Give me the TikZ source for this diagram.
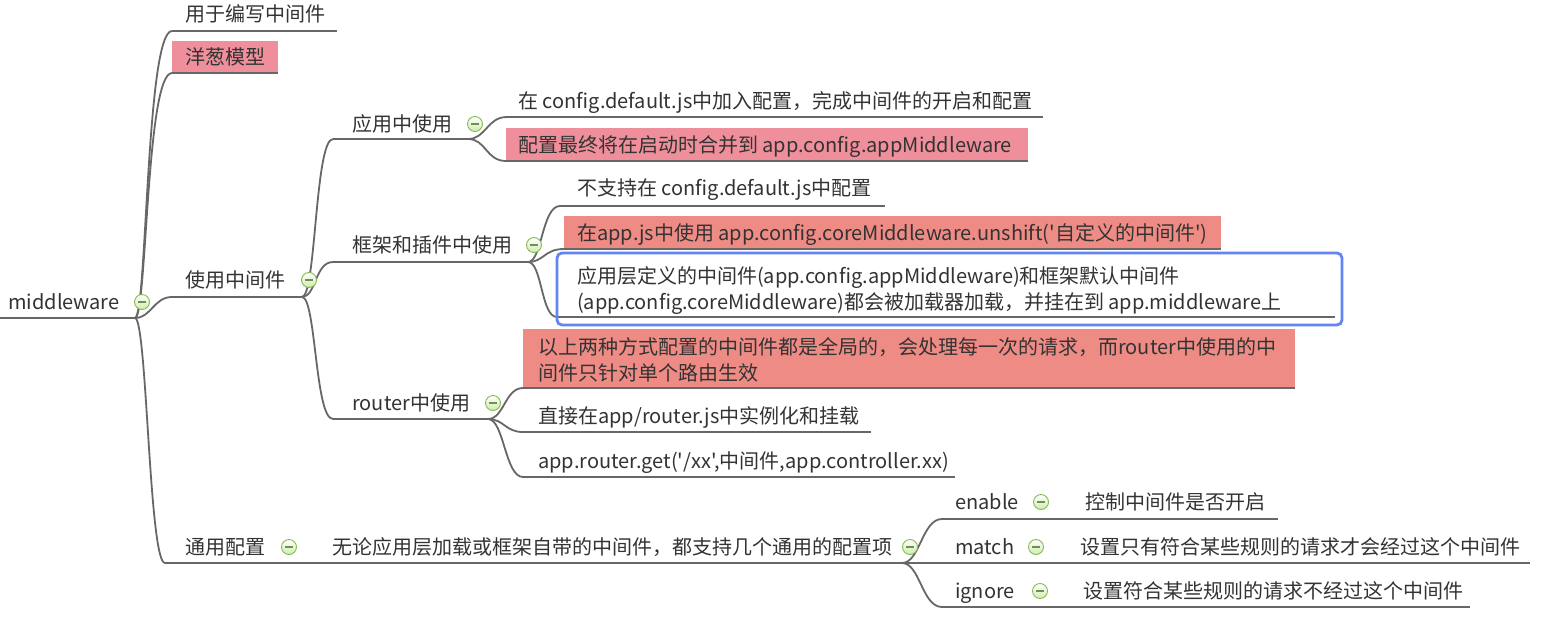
\documentclass[tikz,border=0pt]{standalone}
\usepackage{fontspec}
\setmainfont{Noto Sans CJK SC}[Ligatures=TeXOff]
\definecolor{txt}{HTML}{333333}
\definecolor{ln}{HTML}{676767}
\definecolor{pinkA}{HTML}{EF8F9B}
\definecolor{pinkB}{HTML}{EE8B85}
\definecolor{blueB}{HTML}{6384F3}
\definecolor{icB}{HTML}{86BA4E}
\definecolor{icF}{HTML}{CFEAB0}
\definecolor{icD}{HTML}{6E8F55}
\tikzset{
  lbl/.style={anchor=base west, inner sep=0pt, text=txt, font=\fontsize{20}{26}\selectfont},
  lblm/.style={anchor=west, inner sep=0pt, text=txt, align=left, font=\fontsize{20}{26}\selectfont},
  uline/.style={draw=ln, line width=1.8pt},
  conn/.style={draw=ln, line width=1.8pt},
  icon/.style={circle, draw=icB, line width=0.9pt, minimum size=15pt, inner sep=0pt,
    top color=white, bottom color=icF,
    path picture={\draw[line width=1.1pt, draw=icD] ([xshift=-4pt]path picture bounding box.center) -- ([xshift=4pt]path picture bounding box.center);}},
}
\begin{document}
\begin{tikzpicture}[x=1pt,y=-1pt]
\useasboundingbox[fill=white] (0,0) rectangle (1544,626);
% boxes
\fill[pinkA] (172,41) rectangle (278,73);
\fill[pinkA] (506,128) rectangle (1028,161);
\fill[pinkB] (564,216) rectangle (1221,249);
\fill[pinkB] (523,329) rectangle (1295,388);
\fill[white] (557,253) rectangle (1342,325);
% coordinates of underline ends
\coordinate (rootL) at (0,318);   \coordinate (rootR) at (135,318);
\coordinate (n1L) at (172,31);    \coordinate (n1R) at (337,31);
\coordinate (n2L) at (172,73);    \coordinate (n2R) at (278,73);
\coordinate (n3L) at (172,297);   \coordinate (n3R) at (302,297);
\coordinate (n4L) at (165,563);   \coordinate (n4R) at (305,563);
\coordinate (a1L) at (333,139);   \coordinate (a1R) at (468,139);
\coordinate (a2L) at (333,262);   \coordinate (a2R) at (528,262);
\coordinate (a3L) at (333,419);   \coordinate (a3R) at (488,419);
\coordinate (b1L) at (507,117);   \coordinate (b1R) at (1043,117);
\coordinate (b2L) at (506,161);   \coordinate (b2R) at (1028,161);
\coordinate (c1L) at (560,206);   \coordinate (c1R) at (885,206);
\coordinate (c2L) at (564,249);   \coordinate (c2R) at (1221,249);
\coordinate (c3L) at (557,317);   \coordinate (c3R) at (1335,317);
\coordinate (d1L) at (523,388);   \coordinate (d1R) at (1295,388);
\coordinate (d2L) at (523,432);   \coordinate (d2R) at (871,432);
\coordinate (d3L) at (523,477);   \coordinate (d3R) at (955,477);
\coordinate (gL) at (320,563);    \coordinate (gR) at (902,563);
\coordinate (e1L) at (942,519);   \coordinate (e1R) at (1278,519);
\coordinate (e2L) at (942,563);   \coordinate (e2R) at (1530,563);
\coordinate (e3L) at (942,607);   \coordinate (e3R) at (1470,607);
% underlines
\foreach \n in {root,n1,n2,n3,n4,a1,a2,a3,b1,b2,c1,c2,c3,d1,d2,d3,g,e1,e2,e3}
  \draw[uline] (\n L) -- (\n R);
% connectors
\draw[conn] (rootR) .. controls +(12,0) and +(-26,0) .. (n1L);
\draw[conn] (rootR) .. controls +(12,0) and +(-26,0) .. (n2L);
\draw[conn] (rootR) .. controls +(16,0) and +(-18,0) .. (n3L);
\draw[conn] (rootR) .. controls +(12,0) and +(-16,0) .. (n4L);
\draw[conn] (n4R) -- (gL);
\draw[conn] (n3R) .. controls +(14,0) and +(-18,0) .. (a1L);
\draw[conn] (n3R) .. controls +(14,0) and +(-18,0) .. (a2L);
\draw[conn] (n3R) .. controls +(14,0) and +(-18,0) .. (a3L);
\draw[conn] (a1R) .. controls +(18,0) and +(-20,0) .. (b1L);
\draw[conn] (a1R) .. controls +(18,0) and +(-20,0) .. (b2L);
\draw[conn] (a2R) .. controls +(14,0) and +(-18,0) .. (c1L);
\draw[conn] (a2R) .. controls +(16,0) and +(-20,0) .. (c2L);
\draw[conn] (a2R) .. controls +(14,0) and +(-16,0) .. (c3L);
\draw[conn] (a3R) .. controls +(16,0) and +(-18,0) .. (d1L);
\draw[conn] (a3R) .. controls +(16,0) and +(-18,0) .. (d2L);
\draw[conn] (a3R) .. controls +(16,0) and +(-18,0) .. (d3L);
\draw[conn] (gR) .. controls +(18,0) and +(-20,0) .. (e1L);
\draw[conn] (gR) -- (e2L);
\draw[conn] (gR) .. controls +(18,0) and +(-20,0) .. (e3L);
% blue frame
\draw[blueB, line width=2.8pt, rounded corners=5pt] (557,253) rectangle (1342,325);
% texts
\node[lbl] (root) at (8,309) {middleware};
\node[lbl] (n1) at (185,22) {用于编写中间件};
\node[lbl] (n2) at (185,65) {洋葱模型};
\node[lbl] (n3) at (185,287) {使用中间件};
\node[lbl] (n4) at (185,554) {通用配置};
\node[lbl] (a1) at (352,131) {应用中使用};
\node[lbl] (a2) at (352,252) {框架和插件中使用};
\node[lbl] (a3) at (352,410) {router中使用};
\node[lbl] (b1) at (518,108) {在 config.default.js中加入配置，完成中间件的开启和配置};
\node[lbl] (b2) at (518,152) {配置最终将在启动时合并到 app.config.appMiddleware};
\node[lbl] (c1) at (577,195) {不支持在 config.default.js中配置};
\node[lbl] (c2) at (577,240) {在app.js中使用 app.config.coreMiddleware.unshift('自定义的中间件')};
\node[lblm] (c3) at (577,291) {应用层定义的中间件(app.config.appMiddleware)和框架默认中间件\\(app.config.coreMiddleware)都会被加载器加载，并挂在到 app.middleware上};
\node[lblm] (d1) at (538,360) {以上两种方式配置的中间件都是全局的，会处理每一次的请求，而router中使用的中\\间件只针对单个路由生效};
\node[lbl] (d2) at (538,423) {直接在app/router.js中实例化和挂载};
\node[lbl] (d3) at (538,468) {app.router.get('/xx',中间件,app.controller.xx)};
\node[lbl] (g) at (332,554) {无论应用层加载或框架自带的中间件，都支持几个通用的配置项};
\node[lbl] (e1) at (955,509) {enable};
\node[lbl] (e1t) at (1085,509) {控制中间件是否开启};
\node[lbl] (e2) at (955,554) {match};
\node[lbl] (e2t) at (1080,554) {设置只有符合某些规则的请求才会经过这个中间件};
\node[lbl] (e3) at (955,598) {ignore};
\node[lbl] (e3t) at (1083,598) {设置符合某些规则的请求不经过这个中间件};
% collapse icons
\node[icon] (i0) at (142,302) {};
\node[icon] (i3) at (309,280) {};
\node[icon] (i4) at (289,547) {};
\node[icon] (ia1) at (475,124) {};
\node[icon] (ia2) at (534,245) {};
\node[icon] (ia3) at (493,403) {};
\node[icon] (ig) at (910,547) {};
\node[icon] (ie1) at (1041,502) {};
\node[icon] (ie2) at (1036,547) {};
\node[icon] (ie3) at (1040,591) {};
\end{tikzpicture}
\end{document}
